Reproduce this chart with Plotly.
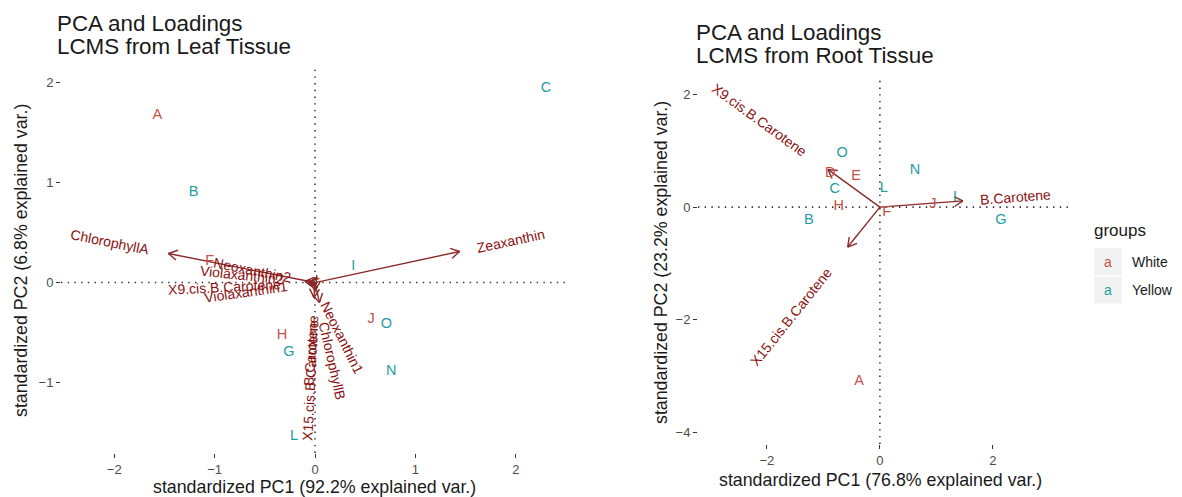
import math
import plotly.graph_objects as go

# page body margin offset (browser default) compensated below
OFF = 8
W, H = 1182 - OFF, 497 - OFF

# ---------------- data: leaf tissue ----------------
leaf_samples = ["A", "B", "C", "F", "G", "H", "I", "J", "L", "N", "O"]
leaf_groups = ["White", "Yellow", "Yellow", "White", "Yellow", "White", "Yellow", "White", "Yellow", "Yellow", "Yellow"]
leaf_pc1 = [-1.57, -1.21, 2.30, -1.05, -0.26, -0.33, 0.38, 0.56, -0.21, 0.76, 0.71]
leaf_pc2 = [1.67, 0.90, 1.94, 0.21, -0.70, -0.53, 0.16, -0.37, -1.53, -0.89, -0.42]

leaf_vars = ["ChlorophyllA", "Zeaxanthin", "Neoxanthin2", "Violaxanthin2", "X9.cis.B.Carotene",
             "Violaxanthin1", "X15.cis.B.Carotene", "B.Carotene", "ChlorophyllB", "Neoxanthin1"]
leaf_load1 = [-1.46, 1.44, -0.05, -0.10, -0.06, -0.07, -0.004, -0.01, 0.045, 0.012]
leaf_load2 = [0.29, 0.31, 0.01, 0.0105, -0.003, -0.010, -0.08, -0.15, -0.20, -0.024]

# ---------------- data: root tissue ----------------
root_samples = ["A", "B", "C", "D", "E", "F", "G", "H", "I", "J", "L", "N", "O"]
root_groups = ["White", "Yellow", "Yellow", "White", "White", "White", "Yellow", "White", "Yellow", "White", "Yellow", "Yellow", "Yellow"]
root_pc1 = [-0.37, -1.26, -0.80, -0.88, -0.42, 0.12, 2.14, -0.73, 1.33, 0.94, 0.07, 0.62, -0.67]
root_pc2 = [-3.09, -0.23, 0.32, 0.60, 0.55, -0.09, -0.23, 0.02, 0.18, 0.04, 0.34, 0.66, 0.96]

root_vars = ["X9.cis.B.Carotene", "B.Carotene", "X15.cis.B.Carotene"]
root_load1 = [-0.92, 1.47, -0.57]
root_load2 = [0.67, 0.11, -0.71]

leaf_xticks = [-2, -1, 0, 1, 2]
leaf_yticks = [-1, 0, 1, 2]
root_xticks = [-2, 0, 2]
root_yticks = [-4, -2, 0, 2]

group_names = ["White", "Yellow"]
group_colors = {"White": "#C65147", "Yellow": "#1F9DA3"}

# ---------------- styling ----------------
FONT = "Liberation Sans, Arial, sans-serif"
ARROW_COLOR = "#8A2A2A"
VAR_COLOR = "#8B1010"
VAR_SIZE = 14
LAB_SIZE = 14.5

CW = {}
for c, w in zip("ABCDEFGHIJKLMNOPQRSTUVWXYZ",
                [667, 667, 722, 722, 667, 611, 778, 722, 278, 500, 667, 556, 833, 722, 778, 667, 778, 722, 667, 611, 722, 667, 944, 667, 667, 611]):
    CW[c] = w
for c, w in zip("abcdefghijklmnopqrstuvwxyz",
                [556, 556, 500, 556, 556, 278, 556, 556, 222, 222, 500, 222, 833, 556, 556, 556, 556, 333, 500, 278, 556, 500, 722, 500, 500, 500]):
    CW[c] = w
for c in "0123456789":
    CW[c] = 556
CW["."] = 278


def text_w(s, size):
    return sum(CW.get(c, 556) for c in s) / 1000.0 * size


def fx(px):
    return (px - OFF) / W


def fy(py):
    return 1 - (py - OFF) / H


panels = [
    dict(xa="x", ya="y", xdom=(61, 567), ydom=(69, 453), xr=(-2.53, 2.51), yr=(-1.70, 2.13),
         xt=leaf_xticks, yt=leaf_yticks,
         samples=leaf_samples, groups=leaf_groups, pc1=leaf_pc1, pc2=leaf_pc2,
         vars=leaf_vars, l1=leaf_load1, l2=leaf_load2),
    dict(xa="x2", ya="y2", xdom=(698, 1068), ydom=(76, 444), xr=(-3.22, 3.33), yr=(-4.21, 2.33),
         xt=root_xticks, yt=root_yticks,
         samples=root_samples, groups=root_groups, pc1=root_pc1, pc2=root_pc2,
         vars=root_vars, l1=root_load1, l2=root_load2),
]

fig = go.Figure()
layout_axes = {}
shapes = []
annotations = []

for i, p in enumerate(panels):
    ppu = (p["xdom"][1] - p["xdom"][0]) / (p["xr"][1] - p["xr"][0])
    suffix = "" if i == 0 else str(i + 1)
    ax_common = dict(showgrid=False, zeroline=False, showline=False, ticks="outside", ticklen=4,
                     tickwidth=1.2, tickcolor="#333333", fixedrange=True,
                     tickfont=dict(family=FONT, size=13, color="#4D4D4D"))
    layout_axes["xaxis" + suffix] = dict(ax_common, domain=[fx(p["xdom"][0]), fx(p["xdom"][1])],
                                         range=list(p["xr"]), tickvals=p["xt"],
                                         anchor=p["ya"])
    layout_axes["yaxis" + suffix] = dict(ax_common, domain=[fy(p["ydom"][1]), fy(p["ydom"][0])],
                                         range=list(p["yr"]), tickvals=p["yt"],
                                         anchor=p["xa"])
    # dotted reference lines
    shapes.append(dict(type="line", xref=p["xa"], yref=p["ya"] + " domain", x0=0, x1=0, y0=0, y1=1,
                       line=dict(color="#333333", width=1.6, dash="1.4px,5.3px"), layer="below"))
    shapes.append(dict(type="line", xref=p["xa"] + " domain", yref=p["ya"], x0=0, x1=1, y0=0, y1=0,
                       line=dict(color="#333333", width=1.6, dash="1.4px,5.3px"), layer="below"))

    # loading arrows
    xs, ys = [], []
    head = 10.0 / ppu
    for x, y in zip(p["l1"], p["l2"]):
        xs += [0, x, None]
        ys += [0, y, None]
        ang = math.atan2(y, x)
        for d in (1, -1):
            a = ang + math.pi + d * math.radians(30)
            xs += [x, x + head * math.cos(a), None]
            ys += [y, y + head * math.sin(a), None]
    fig.add_trace(go.Scatter(x=xs, y=ys, mode="lines", xaxis=p["xa"], yaxis=p["ya"],
                             line=dict(color=ARROW_COLOR, width=1.4), hoverinfo="skip",
                             showlegend=False))

    # sample labels
    for g in group_names:
        idx = [k for k, gg in enumerate(p["groups"]) if gg == g]
        fig.add_trace(go.Scatter(x=[p["pc1"][k] for k in idx], y=[p["pc2"][k] for k in idx],
                                 text=[p["samples"][k] for k in idx], mode="text",
                                 textposition="middle center", xaxis=p["xa"], yaxis=p["ya"],
                                 textfont=dict(family=FONT, size=LAB_SIZE, color=group_colors[g]),
                                 showlegend=False, name=g))

    # variable names
    for n, x, y in zip(p["vars"], p["l1"], p["l2"]):
        r = math.hypot(x, y)
        ux, uy = x / r, y / r
        off = 0.75 * text_w(n, VAR_SIZE) / ppu
        ang = math.degrees(math.atan(y / x))
        annotations.append(dict(x=x + ux * off, y=y + uy * off, xref=p["xa"], yref=p["ya"], text=n,
                                showarrow=False, textangle=-ang, xanchor="center", yanchor="middle",
                                font=dict(family=FONT, size=VAR_SIZE, color=VAR_COLOR)))


def pa(text, px, py, size, color="#1A1A1A", xanchor="left", angle=0):
    annotations.append(dict(text=text, x=fx(px), y=fy(py), xref="paper", yref="paper",
                            showarrow=False, xanchor=xanchor, yanchor="middle", textangle=angle,
                            font=dict(family=FONT, size=size, color=color)))


# titles
pa("PCA and Loadings", 55, 23, 22.4)
pa("LCMS from Leaf Tissue", 55, 47, 22.4)
pa("PCA and Loadings", 694, 32, 22.4)
pa("LCMS from Root Tissue", 694, 56, 22.4)

# axis titles
pa("standardized PC1 (92.2% explained var.)", 314, 487, 17.8, xanchor="center")
pa("standardized PC2 (6.8% explained var.)", 21, 261, 17.8, xanchor="center", angle=-90)
pa("standardized PC1 (76.8% explained var.)", 880, 480, 17.8, xanchor="center")
pa("standardized PC2 (23.2% explained var.)", 661, 263, 17.8, xanchor="center", angle=-90)

# legend (drawn manually in ggplot style)
pa("groups", 1092, 230, 17)
for k, g in enumerate(group_names):
    top = 248 + k * 28.5
    shapes.append(dict(type="rect", xref="paper", yref="paper", x0=fx(1094), x1=fx(1122),
                       y0=fy(top + 27), y1=fy(top), fillcolor="#F2F2F2",
                       line=dict(width=0), layer="below"))
    pa("a", 1108, top + 13.5, 14, color=group_colors[g], xanchor="center")
    pa(g, 1130, top + 13.5, 14, color="#1A1A1A")

fig.update_layout(
    width=W, height=H, margin=dict(l=0, r=0, t=0, b=0),
    paper_bgcolor="white", plot_bgcolor="white", showlegend=False,
    shapes=shapes, annotations=annotations, **layout_axes,
)

fig.write_html("out.html")
